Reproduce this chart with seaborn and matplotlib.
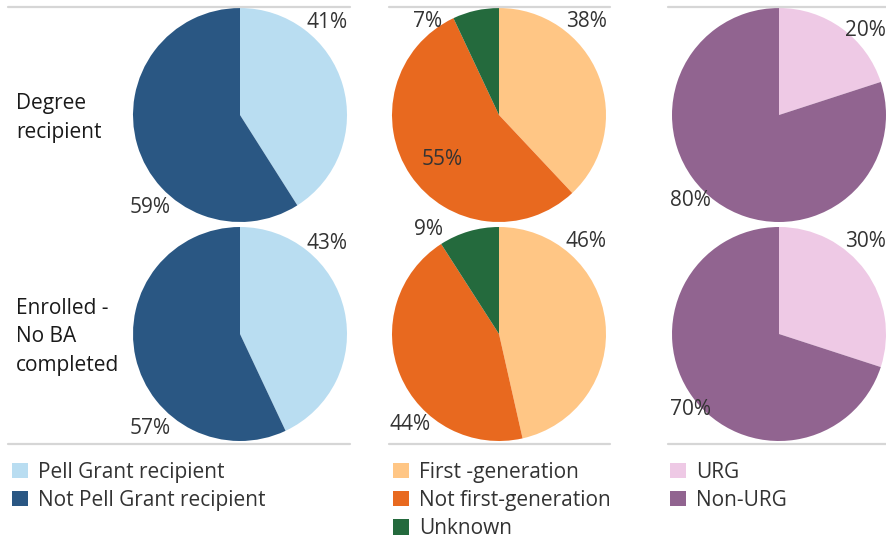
import matplotlib
matplotlib.use("Agg")
import matplotlib.pyplot as plt
from matplotlib.patches import Patch
from matplotlib.lines import Line2D
import seaborn as sns

# row headers
rows = ["Degree\nrecipient", "Enrolled -\nNo BA\ncompleted"]

# Pell grant
pell_labels = ["Pell Grant recipient", "Not Pell Grant recipient"]
pell_degree = [41, 59]
pell_enrolled = [43, 57]
pell_colors = ["#b9ddf1", "#2a5783"]

# first generation
gen_labels = ["First -generation", "Not first-generation", "Unknown"]
gen_degree = [38, 55, 7]
gen_enrolled = [46, 44, 9]
gen_colors = ["#ffc685", "#e8691f", "#246a3d"]

# URG
urg_labels = ["URG", "Non-URG"]
urg_degree = [20, 80]
urg_enrolled = [30, 70]
urg_colors = ["#eec9e5", "#916490"]

# where Tableau put the % labels (in pie-radius units), per pie
label_spots = {
    ("pell", 0): [(0.81, 0.86), (-0.84, -0.86)],
    ("pell", 1): [(0.81, 0.85), (-0.84, -0.88)],
    ("gen", 0): [(0.82, 0.87), (-0.53, -0.42), (-0.67, 0.87)],
    ("gen", 1): [(0.81, 0.86), (-0.83, -0.85), (-0.66, 0.98)],
    ("urg", 0): [(0.81, 0.79), (-0.83, -0.80)],
    ("urg", 1): [(0.81, 0.86), (-0.83, -0.71)],
}

sns.set_theme(style="white")
plt.rcParams["font.family"] = ["Open Sans", "DejaVu Sans"]

W, H = 886, 539
fig = plt.figure(figsize=(W / 100, H / 100), dpi=100)
txt = "#333333"
fs = 15


def px_axes(cx, cy, r):
    return fig.add_axes([(cx - r) / W, 1 - (cy + r) / H, 2 * r / W, 2 * r / H])


groups = [
    ("pell", [pell_degree, pell_enrolled], pell_colors, pell_labels, 240),
    ("gen", [gen_degree, gen_enrolled], gen_colors, gen_labels, 499),
    ("urg", [urg_degree, urg_enrolled], urg_colors, urg_labels, 779),
]
row_y = [115, 334]
R = 107

for key, series, colors, labels, cx in groups:
    for i, vals in enumerate(series):
        ax = px_axes(cx, row_y[i], R)
        ax.pie(vals, colors=colors, startangle=90, counterclock=False,
               radius=1, wedgeprops=dict(linewidth=0))
        for v, (lx, ly) in zip(vals, label_spots[(key, i)]):
            ax.text(lx, ly, f"{v}%", ha="center", va="center",
                    fontsize=fs, color=txt, clip_on=False)
        ax.set_xlim(-1, 1)
        ax.set_ylim(-1, 1)
        ax.set_aspect("equal")
        ax.axis("off")

# row labels
for lab, y in zip(rows, row_y):
    fig.text(16 / W, 1 - (y + 3) / H, lab, ha="left", va="center",
             fontsize=fs, color="#1a1a1a", linespacing=1.44)

# separator lines
for x0, x1 in [(8, 350), (389, 610), (668, 886)]:
    for y in [7, 444]:
        fig.add_artist(Line2D([x0 / W, x1 / W], [1 - y / H, 1 - y / H],
                              color="#d6d6d6", linewidth=1.6))

# legends
for (key, series, colors, labels, cx), lx in zip(groups, [12, 393, 670]):
    handles = [Patch(facecolor=c, edgecolor="none") for c in colors]
    fig.legend(handles, labels, loc="upper left",
               bbox_to_anchor=(lx / W, 1 - 462 / H), frameon=False,
               fontsize=fs, handlelength=0.75, handleheight=0.75,
               handletextpad=0.5, labelspacing=0.34, borderpad=0,
               borderaxespad=0, labelcolor=txt)

fig.savefig("out.png", dpi=100)
